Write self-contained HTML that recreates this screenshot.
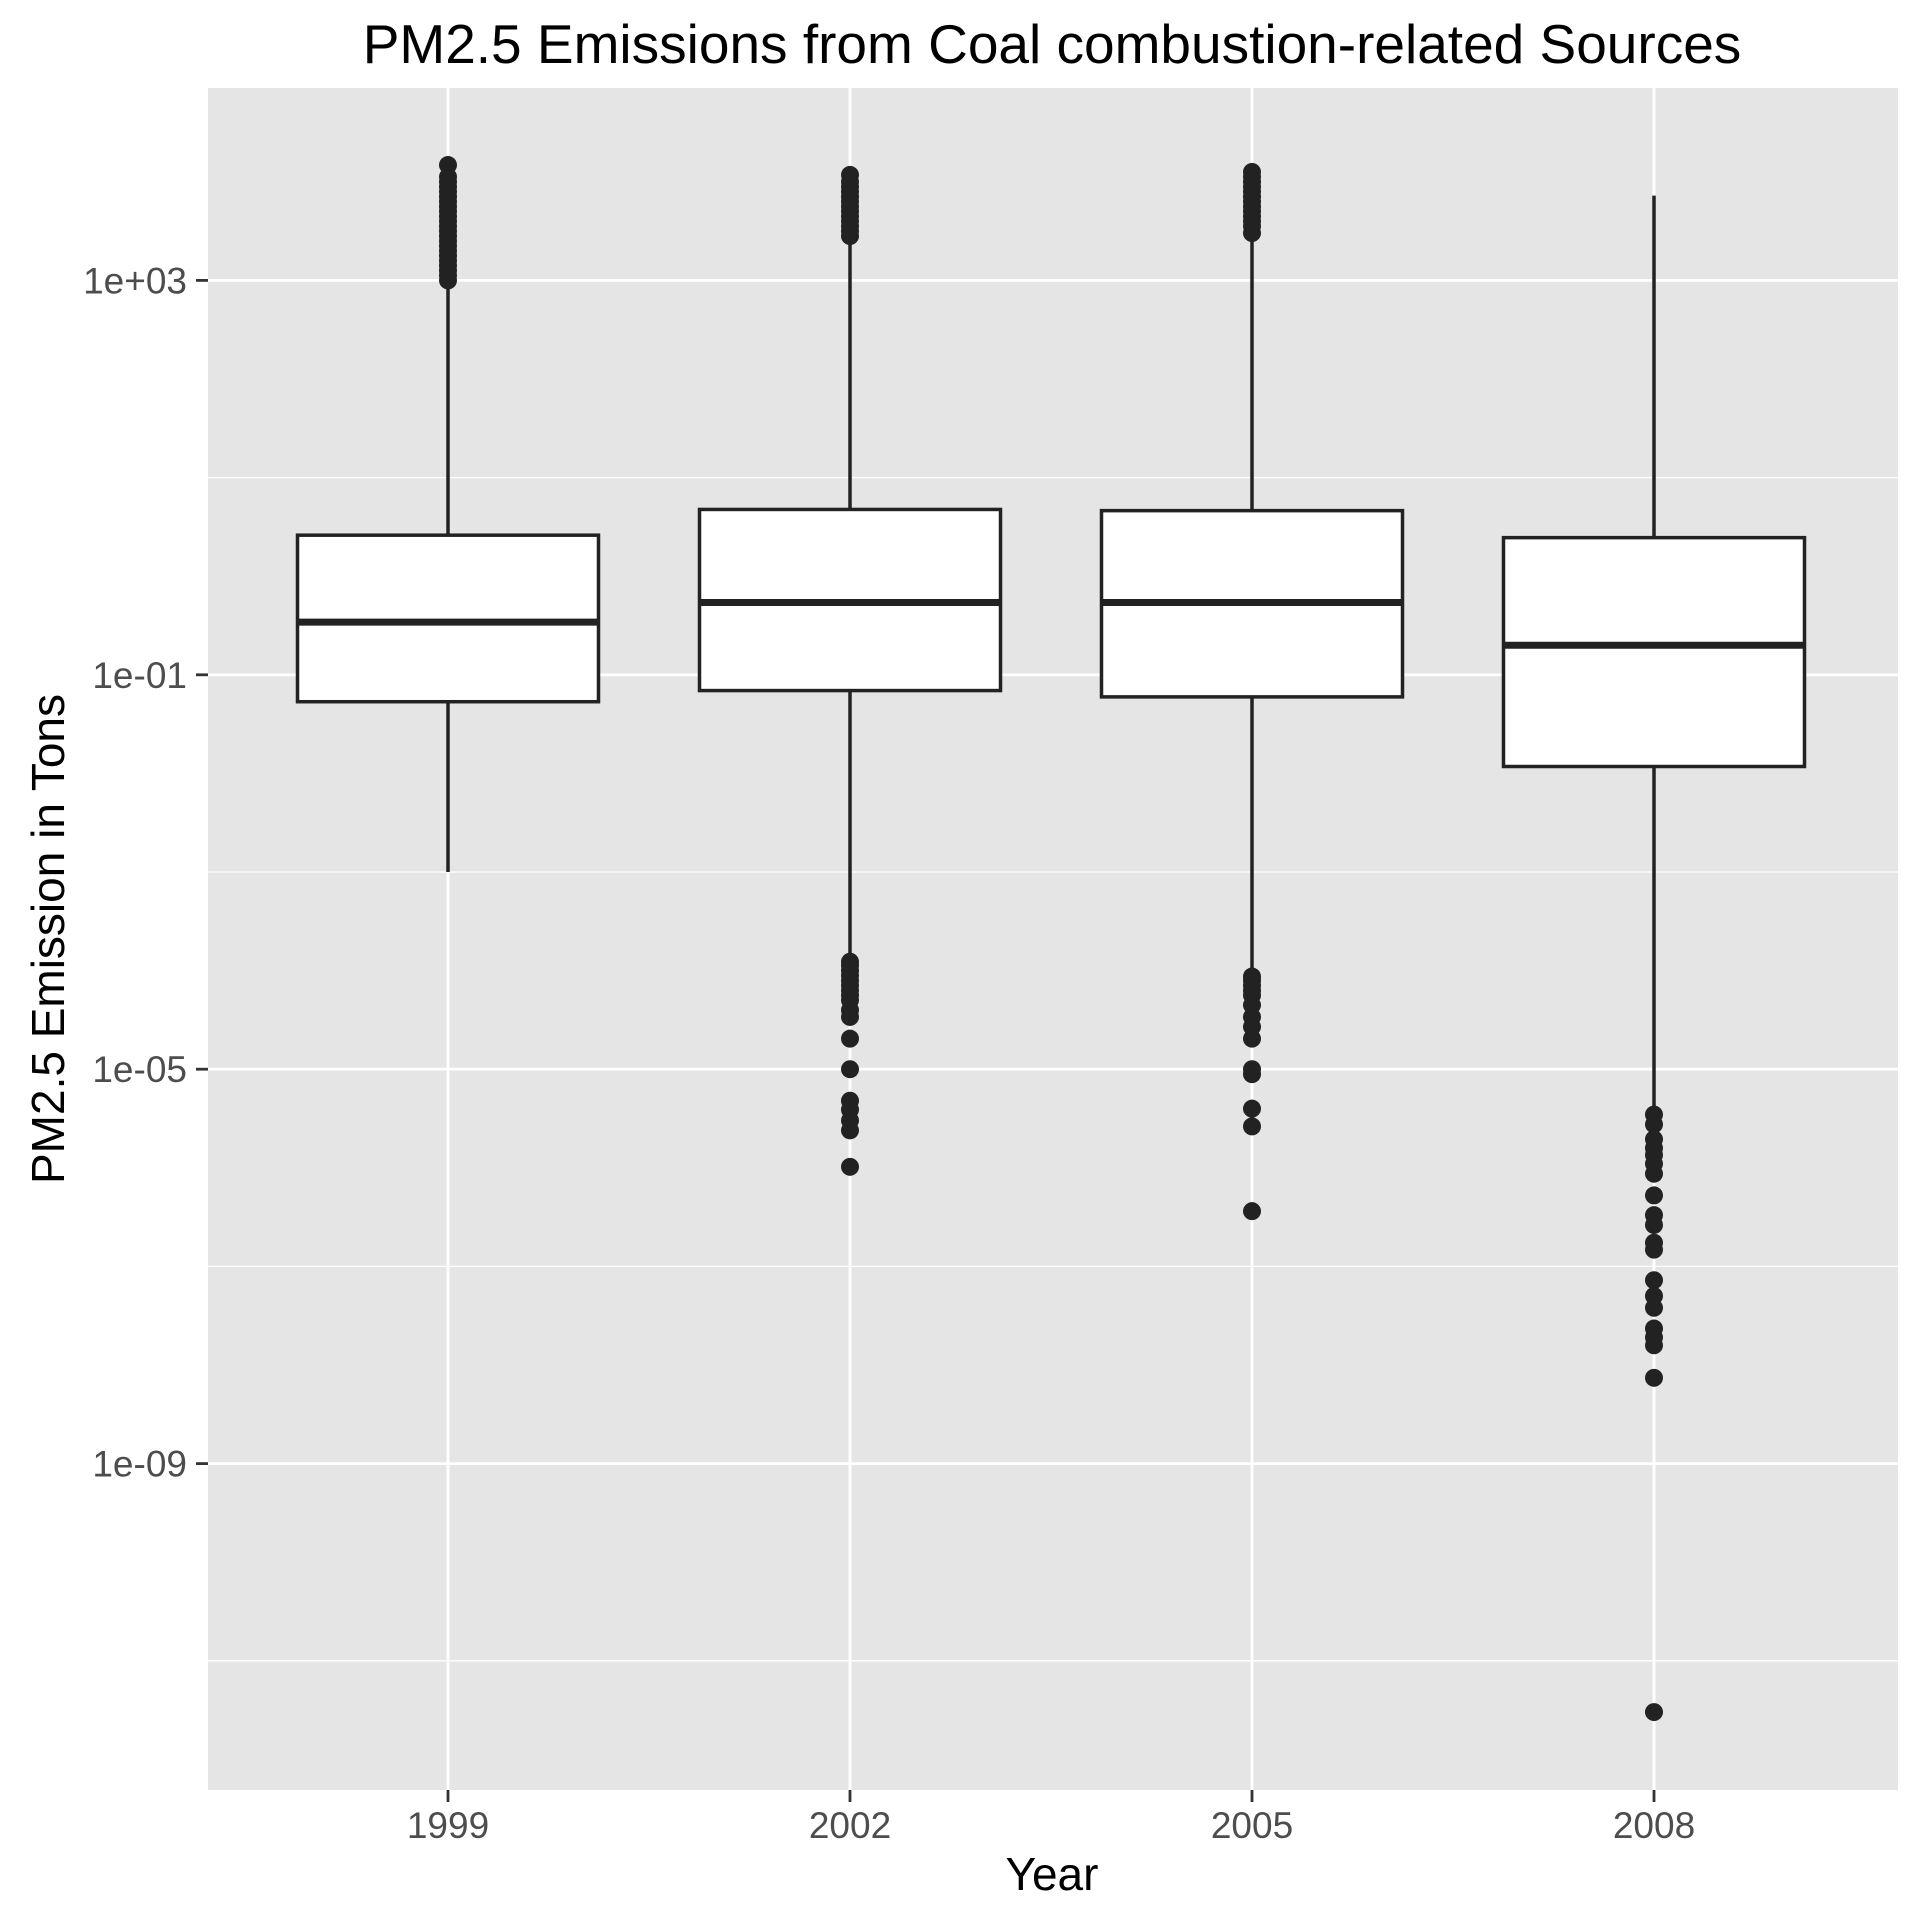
<!DOCTYPE html>
<html><head><meta charset="utf-8"><style>html,body{margin:0;padding:0;background:#fff}svg{display:block}</style></head>
<body>
<svg id="chart" width="1920" height="1920" xmlns="http://www.w3.org/2000/svg" font-family="Liberation Sans, sans-serif">
<rect width="1920" height="1920" fill="#ffffff"/>
<text x="1052" y="63" font-size="55" text-anchor="middle" fill="#000">PM2.5 Emissions from Coal combustion-related Sources</text>
<rect x="208" y="88" width="1690" height="1702" fill="#e5e5e5"/>
<g id="grid"></g><g id="marks"></g><g id="axes"></g>
<text x="1052" y="1890" font-size="46" text-anchor="middle" fill="#000">Year</text>
<text transform="translate(64,939) rotate(-90)" font-size="46" text-anchor="middle" fill="#000">PM2.5 Emission in Tons</text>
</svg>
<script>
const categories = ["1999","2002","2005","2008"];
const q1Log = [-1.273, -1.16, -1.224, -1.93];
const medianLog = [-0.466, -0.267, -0.267, -0.70];
const q3Log = [0.416, 0.677, 0.665, 0.391];
const whiskerLowLog = [-3.0, -3.91, -4.06, -5.46];
const whiskerHighLog = [2.97, 3.42, 3.45, 3.86];
const outliers1999 = [3.0,3.05,3.1,3.15,3.2,3.25,3.3,3.35,3.4,3.45,3.5,3.55,3.6,3.65,3.7,3.75,3.8,3.85,3.9,3.95,4.0,4.05,4.17];
const outliers2002 = [3.45,3.5,3.55,3.6,3.65,3.7,3.75,3.8,3.85,3.9,3.95,4.0,4.07,-3.91,-3.95,-4.0,-4.05,-4.1,-4.15,-4.2,-4.25,-4.3,-4.4,-4.47,-4.69,-5.0,-5.32,-5.41,-5.52,-5.62,-5.99];
const outliers2005 = [3.48,3.55,3.6,3.65,3.7,3.75,3.8,3.85,3.9,3.95,4.0,4.05,4.1,-4.06,-4.1,-4.15,-4.2,-4.25,-4.35,-4.47,-4.57,-4.69,-5.0,-5.05,-5.4,-5.58,-6.44];
const outliers2008 = [-5.46,-5.56,-5.71,-5.80,-5.87,-5.96,-6.06,-6.28,-6.48,-6.58,-6.76,-6.83,-7.14,-7.30,-7.42,-7.63,-7.72,-7.80,-8.13,-11.52];
const outliersAll = [outliers1999, outliers2002, outliers2005, outliers2008];
const yTickLogs = [3,-1,-5,-9];
const yTickLabels = ["1e+03","1e-01","1e-05","1e-09"];
const yMinorLogs = [1,-3,-7,-11];

const NS="http://www.w3.org/2000/svg";
const y = lg => 280.4 + (3 - lg) * 98.6;
const x = i => 448 + i * 402;
const boxW = 301;
function mk(tag, attrs, parent){const e=document.createElementNS(NS,tag);for(const k in attrs)e.setAttribute(k,attrs[k]);parent.appendChild(e);return e;}
const grid=document.getElementById('grid'), marks=document.getElementById('marks'), axes=document.getElementById('axes');
yMinorLogs.forEach(lg=>{const l=mk('line',{x1:208,x2:1898,y1:y(lg),y2:y(lg),stroke:'#fff','stroke-width':1.3},grid);

});
yTickLogs.forEach((lg,i)=>{const l=mk('line',{x1:208,x2:1898,y1:y(lg),y2:y(lg),stroke:'#fff','stroke-width':2.8},grid);


const t=mk('line',{x1:196,x2:208,y1:y(lg),y2:y(lg),stroke:'#333','stroke-width':2.8},axes);


const tx=mk('text',{x:187,y:y(lg)+13,'font-size':37,'text-anchor':'end',fill:'#4d4d4d'},axes);tx.textContent=yTickLabels[i];

});
categories.forEach((c,i)=>{const cx=x(i);
const g=mk('line',{x1:cx,x2:cx,y1:88,y2:1790,stroke:'#fff','stroke-width':2.8},grid);


const t=mk('line',{x1:cx,x2:cx,y1:1790,y2:1802,stroke:'#333','stroke-width':2.8},axes);


const tx=mk('text',{x:cx,y:1838,'font-size':37,'text-anchor':'middle',fill:'#4d4d4d'},axes);tx.textContent=c;


const w1=mk('line',{x1:cx,x2:cx,y1:y(whiskerHighLog[i]),y2:y(q3Log[i]),stroke:'#222','stroke-width':3.5},marks);


const w2=mk('line',{x1:cx,x2:cx,y1:y(q1Log[i]),y2:y(whiskerLowLog[i]),stroke:'#222','stroke-width':3.5},marks);


const b=mk('rect',{x:cx-boxW/2,y:y(q3Log[i]),width:boxW,height:y(q1Log[i])-y(q3Log[i]),fill:'#fff',stroke:'#222','stroke-width':3.5},marks);


const m=mk('line',{x1:cx-boxW/2,x2:cx+boxW/2,y1:y(medianLog[i]),y2:y(medianLog[i]),stroke:'#222','stroke-width':7},marks);


outliersAll[i].forEach(v=>{const p=mk('circle',{cx:cx,cy:y(v),r:9,fill:'#222'},marks);

});
});
</script>
</body></html>
